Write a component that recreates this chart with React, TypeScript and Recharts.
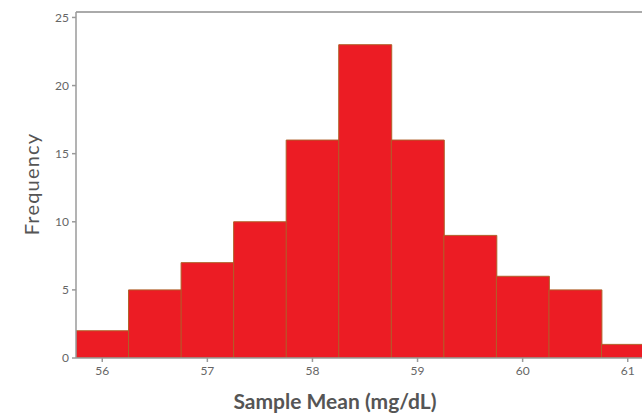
import { BarChart, Bar, XAxis, YAxis, ReferenceLine } from "recharts";

// histogram of sample means, bins 0.5 wide
const binCenters = [56, 56.5, 57, 57.5, 58, 58.5, 59, 59.5, 60, 60.5, 61];
const frequencies = [2, 5, 7, 10, 16, 23, 16, 9, 6, 5, 1];
const xTicks = [56, 57, 58, 59, 60, 61];
const yTicks = [0, 5, 10, 15, 20, 25];
const xDomain = [55.75, 61.25];
const yMax = 25.4;

const data = binCenters.map((mean, i) => ({ mean, count: frequencies[i] }));

const font = "Lato, 'Open Sans', sans-serif";

export default function App() {
  return (
    <div
      style={{
        position: "fixed",
        left: 0,
        top: 0,
        width: 642,
        height: 417,
        overflow: "hidden",
        background: "#fff",
        fontFamily: font,
      }}
    >
      <BarChart
        width={654}
        height={417}
        data={data}
        margin={{ top: 12, right: 0, left: 36, bottom: 0 }}
        barCategoryGap={0}
        barGap={0}
      >
        <XAxis
          dataKey="mean"
          type="number"
          domain={xDomain}
          ticks={xTicks}
          allowDataOverflow
          height={59}
          tickSize={4}
          tickMargin={4}
          stroke="#9a9a9a"
          strokeWidth={1.5}
          tick={{ fontSize: 12, fill: "#666", fontFamily: font }}
          label={() => (
            <text
              x={335}
              y={409}
              textAnchor="middle"
              fontSize={21}
              fontWeight={700}
              fill="#555"
              fontFamily={font}
            >
              Sample Mean (mg/dL)
            </text>
          )}
        />
        <YAxis
          domain={[0, yMax]}
          ticks={yTicks}
          allowDataOverflow
          width={40}
          tickSize={4}
          tickMargin={3}
          stroke="#9a9a9a"
          strokeWidth={1.5}
          tick={{ fontSize: 12, fill: "#666", fontFamily: font }}
          label={() => (
            <text
              x={39}
              y={184}
              transform="rotate(-90 39 184)"
              textAnchor="middle"
              fontSize={20}
              letterSpacing={1.2}
              fill="#555"
              fontFamily={font}
            >
              Frequency
            </text>
          )}
        />
        <ReferenceLine y={yMax} stroke="#aaa" strokeWidth={2} />
        <Bar
          dataKey="count"
          fill="#ec1c24"
          stroke="#b0602a"
          strokeWidth={1}
          isAnimationActive={false}
        />
      </BarChart>
    </div>
  );
}
